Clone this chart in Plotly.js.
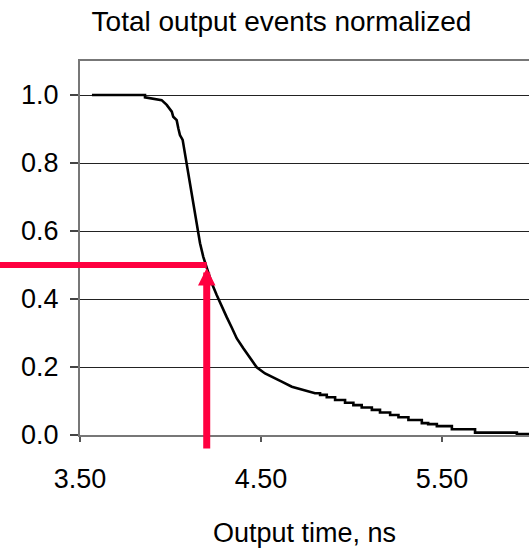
<!DOCTYPE html>
<html>
<head>
<meta charset="utf-8">
<script src="https://cdn.plot.ly/plotly-3.0.1.min.js"></script>
<style>
  html, body { margin: 0; padding: 0; background: #fff; }
  #chart { width: 529px; height: 550px; }
</style>
</head>
<body>
<div id="chart"></div>
<script>
// Output time (ns) along the normalized event curve; repeated times mark the
// discrete drops in the slow tail
const outputTime = [
  3.566, 3.859, 3.859, 3.951, 3.979, 3.993, 4.007, 4.015, 4.034, 4.043,
  4.052, 4.067, 4.075, 4.086, 4.093, 4.104, 4.117, 4.135, 4.148, 4.163,
  4.181, 4.200, 4.228, 4.255, 4.283, 4.311, 4.338, 4.366, 4.402, 4.439,
  4.476, 4.522, 4.568, 4.614, 4.670, 4.725, 4.798,
  4.826, 4.826, 4.863, 4.863, 4.909, 4.909, 4.964, 4.964, 5.010, 5.010,
  5.056, 5.056, 5.112, 5.112, 5.157, 5.157, 5.213, 5.213, 5.259, 5.259,
  5.314, 5.314, 5.388, 5.388, 5.423, 5.423, 5.471, 5.471, 5.554, 5.554,
  5.682, 5.682, 5.913, 5.913, 6.000
];
// Fraction of total output events remaining at each of those times
const eventsNormalized = [
  1.000, 1.000, 0.993, 0.985, 0.971, 0.961, 0.951, 0.936, 0.926, 0.902,
  0.882, 0.868, 0.843, 0.804, 0.774, 0.745, 0.701, 0.652, 0.603, 0.564,
  0.524, 0.495, 0.446, 0.412, 0.377, 0.346, 0.316, 0.284, 0.255, 0.226,
  0.199, 0.181, 0.170, 0.157, 0.142, 0.134, 0.123,
  0.123, 0.118, 0.118, 0.111, 0.111, 0.103, 0.103, 0.095, 0.095, 0.088,
  0.088, 0.081, 0.081, 0.074, 0.074, 0.066, 0.066, 0.059, 0.059, 0.052,
  0.052, 0.044, 0.044, 0.035, 0.035, 0.032, 0.032, 0.026, 0.026, 0.017,
  0.017, 0.007, 0.007, 0.003, 0.003
];

// Half-level marker: the time at which half of the events remain
const halfLevel = 0.5;
const halfTime = 4.2;
const markerTailY = -0.044;

const xTickVals = [3.5, 4.5, 5.5];
const xTickText = ['3.50', '4.50', '5.50'];
const yTickVals = [0.0, 0.2, 0.4, 0.6, 0.8, 1.0];
const yTickText = ['0.0', '0.2', '0.4', '0.6', '0.8', '1.0'];

const xRange = [3.5, 5.98];
const yRange = [0, 1.1];
const margin = { l: 80, r: 0, t: 61, b: 115 };
const W = 529, H = 550;
const plotW = W - margin.l - margin.r;

const FONT = 'Arial, "Liberation Sans", sans-serif';
const RED = '#ff0040';

const trace = {
  x: outputTime,
  y: eventsNormalized,
  type: 'scatter',
  mode: 'lines',
  line: { color: '#000', width: 2.6, shape: 'linear' },
  hoverinfo: 'skip',
  cliponaxis: true
};

const toPaperX = v => (v - xRange[0]) / (xRange[1] - xRange[0]);
const toPaperY = v => (v - yRange[0]) / (yRange[1] - yRange[0]);

const layout = {
  width: W,
  height: H,
  margin: margin,
  paper_bgcolor: '#fff',
  plot_bgcolor: '#fff',
  showlegend: false,
  font: { family: FONT, size: 27, color: '#000' },
  title: {
    text: 'Total output events normalized',
    font: { family: FONT, size: 28, color: '#000' },
    xref: 'container', x: 281.5 / W, xanchor: 'center',
    yref: 'container', y: 1 - 11 / H, yanchor: 'top'
  },
  xaxis: {
    range: xRange,
    tickmode: 'array',
    tickvals: xTickVals,
    ticktext: xTickText,
    ticks: 'outside', ticklen: 5, tickwidth: 1.5, tickcolor: '#555',
    showline: true, linecolor: '#777', linewidth: 2, mirror: true,
    showgrid: false, zeroline: false,
    ticklabelstandoff: 14,
    tickfont: { family: FONT, size: 27, color: '#000' },
    title: { text: 'Output time, ns', font: { family: FONT, size: 27, color: '#000' }, standoff: 30 }
  },
  yaxis: {
    range: yRange,
    tickmode: 'array',
    tickvals: yTickVals,
    ticktext: yTickText,
    ticks: 'outside', ticklen: 8, tickwidth: 1.5, tickcolor: '#444',
    showline: true, linecolor: '#777', linewidth: 2,
    showgrid: true, gridcolor: '#222', gridwidth: 1,
    zeroline: false,
    ticklabelstandoff: 6,
    tickfont: { family: FONT, size: 27, color: '#000' }
  },
  shapes: [{
    type: 'line',
    xref: 'paper', yref: 'paper',
    x0: -margin.l / plotW, x1: toPaperX(halfTime),
    y0: toPaperY(halfLevel), y1: toPaperY(halfLevel),
    line: { color: RED, width: 6 },
    layer: 'above'
  }],
  annotations: [{
    x: halfTime, y: halfLevel, xref: 'x', yref: 'y',
    ax: halfTime, ay: markerTailY, axref: 'x', ayref: 'y',
    showarrow: true, arrowhead: 2, arrowsize: 0.5, arrowwidth: 7,
    arrowcolor: RED, standoff: 3, text: ''
  }]
};

Plotly.newPlot('chart', [trace], layout, { staticPlot: true, displayModeBar: false });
</script>
</body>
</html>
